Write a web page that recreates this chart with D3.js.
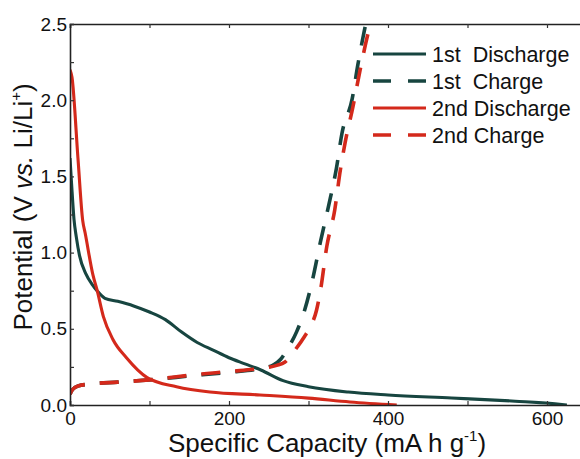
<!DOCTYPE html>
<html>
<head>
<meta charset="utf-8">
<script src="https://cdn.jsdelivr.net/npm/d3@7"></script>
<style>
  body { margin: 0; background: #fff; }
  svg { font-family: "Liberation Sans", Arial, sans-serif; }
</style>
</head>
<body>
<svg id="chart"></svg>
<script>
// values (capacity in mA h g-1, potential in V)
const discharge1 = [[0,1.62],[2,1.45],[5,1.22],[8,1.1],[12,0.98],[20,0.86],[28,0.79],[34,0.75],[44,0.7],[60,0.68],[80,0.65],[100,0.61],[120,0.56],[140,0.48],[160,0.41],[180,0.36],[200,0.31],[220,0.27],[240,0.23],[268,0.16],[300,0.12],[350,0.085],[400,0.066],[480,0.046],[560,0.025],[610,0.008],[625,0]];
const charge1 = [[0,0.07],[3,0.1],[10,0.125],[30,0.14],[60,0.15],[100,0.165],[150,0.19],[200,0.215],[240,0.24],[255,0.26],[265,0.3],[275,0.38],[285,0.48],[295,0.62],[305,0.82],[315,1.07],[325,1.3],[335,1.55],[342,1.78],[355,2.01],[362,2.23],[370,2.45],[372,2.5]];
const discharge2 = [[0,2.2],[2.5,2.15],[10,1.62],[16,1.21],[19,1.13],[29,0.85],[34,0.755],[42,0.58],[54,0.43],[71,0.31],[97,0.18],[134,0.12],[176,0.085],[239,0.066],[300,0.045],[352,0.02],[411,0]];
const charge2 = [[0,0.07],[3,0.1],[10,0.125],[30,0.14],[60,0.15],[100,0.165],[150,0.195],[200,0.22],[240,0.24],[260,0.26],[270,0.28],[283,0.36],[295,0.45],[302,0.51],[310,0.62],[315,0.75],[323,1.04],[333,1.28],[340,1.54],[346,1.72],[356,1.96],[365,2.2],[375,2.44],[378,2.5]];

const seriesNames = ["1st  Discharge", "1st  Charge", "2nd Discharge", "2nd Charge"];
const xTicks = [0, 200, 400, 600];
const yTicks = [0.0, 0.5, 1.0, 1.5, 2.0, 2.5];

const teal = "#174540";
const red = "#d4291b";

const series = [
  { name: seriesNames[0], data: discharge1, color: teal, dash: null },
  { name: seriesNames[1], data: charge1, color: teal, dash: "19,15" },
  { name: seriesNames[2], data: discharge2, color: red, dash: null },
  { name: seriesNames[3], data: charge2, color: red, dash: "19,15" }
];

const svgWidth = 580, svgHeight = 459;
const plotLeft = 70, plotTop = 24, plotBottom = 405;

const svg = d3.select("#chart")
  .attr("width", svgWidth)
  .attr("height", svgHeight);

const x = d3.scaleLinear().domain([0, 650]).range([plotLeft, plotLeft + 650 * 0.795]);
const y = d3.scaleLinear().domain([0, 2.5]).range([plotBottom, plotTop]);

svg.append("defs").append("clipPath").attr("id", "plot")
  .append("rect")
  .attr("x", plotLeft).attr("y", plotTop)
  .attr("width", x(650) - plotLeft).attr("height", plotBottom - plotTop);

// curves
const line = d3.line()
  .x(d => x(d[0]))
  .y(d => y(d[1]))
  .curve(d3.curveMonotoneX);

svg.append("g").attr("clip-path", "url(#plot)")
  .selectAll("path")
  .data(series)
  .enter().append("path")
  .attr("d", d => line(d.data))
  .attr("fill", "none")
  .attr("stroke", d => d.color)
  .attr("stroke-width", d => d.dash ? 3.6 : 3.1)
  .attr("stroke-dasharray", d => d.dash);

// axes, ticks inside
const xAxis = d3.axisBottom(x).tickValues(d3.range(0, 700, 100)).tickSize(-4)
  .tickFormat(d => xTicks.includes(d) ? d : "");
const xTop = d3.axisTop(x).tickValues(d3.range(0, 700, 100)).tickSize(-4).tickFormat("");
const yAxis = d3.axisLeft(y).tickValues(d3.range(0, 2.51, 0.25)).tickSize(-4)
  .tickFormat(d => yTicks.some(t => Math.abs(t - d) < 1e-6) ? d3.format(".1f")(d) : "");

function style(g) {
  g.select(".domain").attr("stroke", "#222").attr("stroke-width", 1.6);
  g.selectAll(".tick line").attr("stroke", "#333").attr("stroke-width", 1.2);
  g.selectAll(".tick text").attr("fill", "#111").attr("font-size", 19)
    .attr("font-family", "Liberation Sans, Arial, sans-serif");
}

svg.append("g").attr("transform", "translate(0," + plotBottom + ")").call(xAxis).call(style)
  .selectAll(".tick text").attr("dy", "0.9em");
svg.append("g").attr("transform", "translate(0," + plotTop + ")").call(xTop).call(style);
svg.append("g").attr("transform", "translate(" + plotLeft + ",0)").call(yAxis).call(style)
  .selectAll(".tick text").attr("x", -3);

// axis titles
svg.append("text")
  .attr("x", 327).attr("y", 452)
  .attr("text-anchor", "middle")
  .attr("font-size", 26).attr("fill", "#111")
  .html('Specific Capacity (mA h g<tspan font-size="15" dy="-11">-1</tspan><tspan dy="11">)</tspan>');

svg.append("text")
  .attr("transform", "translate(32,207) rotate(-90)")
  .attr("text-anchor", "middle")
  .attr("font-size", 26).attr("fill", "#111")
  .html('Potential (V <tspan font-style="italic">vs.</tspan> Li/Li<tspan font-size="15" dy="-11">+</tspan><tspan dy="11">)</tspan>');

// legend
const legend = svg.append("g").selectAll("g")
  .data(series)
  .enter().append("g")
  .attr("transform", (d, i) => "translate(373," + (54 + i * 27) + ")");

legend.append("line")
  .attr("x1", 0).attr("x2", 53)
  .attr("stroke", d => d.color)
  .attr("stroke-width", d => d.dash ? 3.6 : 3.2)
  .attr("stroke-dasharray", d => d.dash ? "18,17" : null);

legend.append("text")
  .attr("x", 59).attr("y", 8)
  .attr("font-size", 21.5).attr("fill", "#111")
  .attr("xml:space", "preserve")
  .style("white-space", "pre")
  .text(d => d.name);
</script>
</body>
</html>
